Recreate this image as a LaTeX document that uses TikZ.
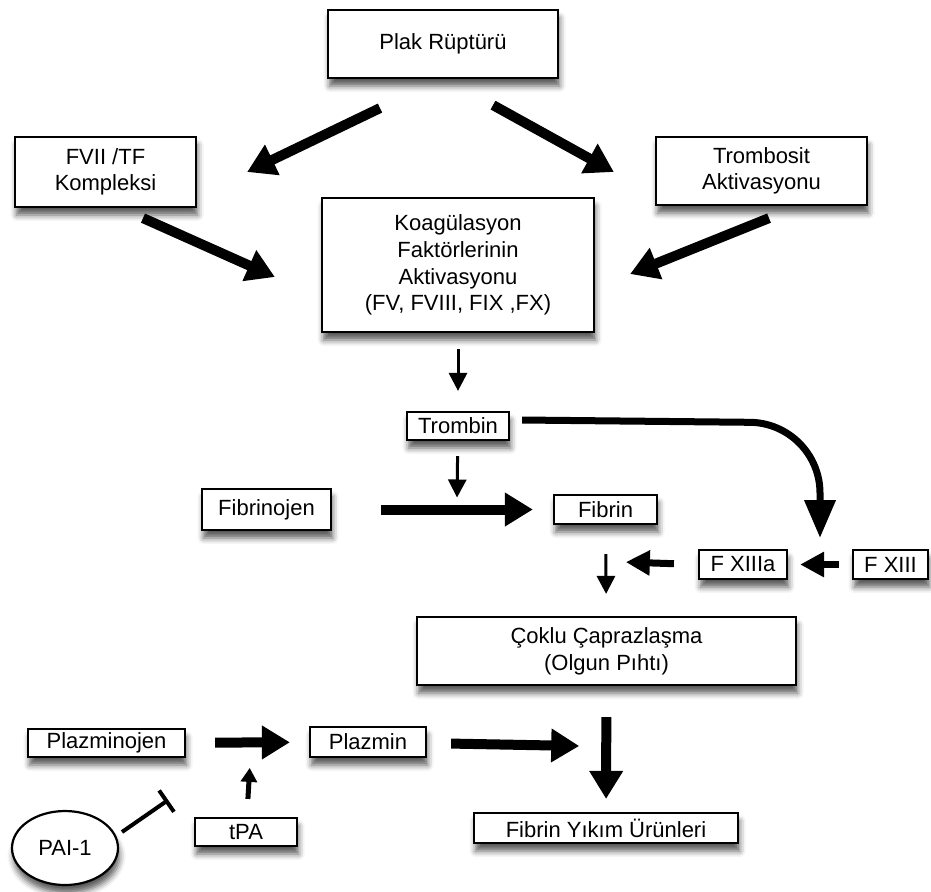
\documentclass[tikz,border=0pt]{standalone}
\usepackage{fontspec}
\setmainfont{Liberation Sans}
\usetikzlibrary{arrows.meta, calc, shapes.geometric, shadows, shadows.blur}

\begin{document}
\begin{tikzpicture}[
  x=0.5pt, y=-0.5pt,
  box/.style={rectangle, draw=black, line width=1.1pt, fill=white, inner sep=1pt, align=center, font=\fontsize{11}{13.3}\selectfont, blur shadow={shadow xshift=0.8pt, shadow yshift=-4pt, shadow blur radius=3pt, shadow opacity=65}},
  bigarrow/.style={-{Triangle[length=14pt,width=16pt]}, line width=5pt},
  midarrow/.style={-{Triangle[length=12pt,width=12pt]}, line width=3.5pt},
  curvearrow/.style={-{Triangle[length=19pt,width=15pt]}, line width=3.5pt},
  thinarrow/.style={-{Triangle[length=9pt,width=9pt]}, line width=1.5pt},
  smallarrow/.style={-{Triangle[length=7pt,width=8pt]}, line width=2.5pt},
  inhibit/.style={-{Bar[width=13pt,line width=2pt]}, line width=2pt}
]
  \useasboundingbox (0,0) rectangle (931,891);

  % Top
  \node[box, minimum width=115pt, minimum height=34pt] (plak) at (443,44) {Plak Rüptürü};
  \node[box, minimum width=90.5pt, minimum height=35pt] (fvii) at (105.5,172) {FVII /TF\\Kompleksi};
  \node[box, minimum width=105.5pt, minimum height=34pt] (tromb) at (761.5,171) {Trombosit\\Aktivasyonu};
  \node[box, minimum width=136pt, minimum height=67pt] (koag) at (458,265) {Koagülasyon\\Faktörlerinin\\Aktivasyonu\\(FV, FVIII, FIX ,FX)};

  % Thrombin and fibrin
  \node[box, minimum width=51pt, minimum height=14pt] (trombin) at (458,426) {Trombin};
  \node[box, minimum width=64.5pt, minimum height=20.5pt] (fibrinojen) at (266.5,509.5) {Fibrinojen};
  \node[box, minimum width=51.5pt, minimum height=14.5pt] (fibrin) at (605.5,509.5) {Fibrin};
  \node[box, minimum width=44pt, minimum height=14.5pt] (fxiiia) at (743,564.5) {F XIIIa};
  \node[box, minimum width=37.5pt, minimum height=14.5pt] (fxiii) at (890.5,564.5) {F XIII};
  \node[box, minimum width=189.5pt, minimum height=34pt] (coklu) at (606.5,651) {Çoklu Çaprazlaşma\\(Olgun Pıhtı)};

  % Fibrinolysis
  \node[box, minimum width=78.5pt, minimum height=14pt] (plazminojen) at (106.5,743) {Plazminojen};
  \node[box, minimum width=58pt, minimum height=15pt] (plazmin) at (368,742) {Plazmin};
  \node[box, minimum width=132pt, minimum height=15pt] (fyu) at (606,828) {Fibrin Yıkım Ürünleri};
  \node[box, minimum width=51pt, minimum height=14pt] (tpa) at (246,832) {tPA};
  \node[box, ellipse, inner sep=0pt, minimum width=53pt, minimum height=37pt] (pai) at (65,848) {PAI-1};

  % Arrows
  \draw[bigarrow] ([shift={(-63,29)}]plak.south) -- ([shift={(50,0)}]fvii.east);
  \draw[bigarrow] ([shift={(50,26)}]plak.south) -- ([shift={(-41,1)}]tromb.west);
  \draw[bigarrow] ([shift={(37.5,10)}]fvii.south) -- ([shift={(-46,12)}]koag.west);
  \draw[bigarrow] ([shift={(7.5,12)}]tromb.south) -- ([shift={(35,9)}]koag.east);
  \draw[thinarrow, shorten <=8pt, shorten >=10pt] (koag) -- (trombin);
  \draw[bigarrow, shorten <=24.5pt, shorten >=10pt] (fibrinojen) -- coordinate[pos=0.565] (react) (fibrin);
  \draw[thinarrow, shorten <=7.5pt, shorten >=6pt] (trombin) -- (react);
  \draw[midarrow, shorten <=6.5pt, shorten >=6pt] (fxiii) -- coordinate[pos=0.5] (act) (fxiiia);
  \draw[curvearrow, rounded corners=35pt] ([shift={(12,-6)}]trombin.east) -- ([shift={(0,-3)}]act |- trombin.east) -- ([shift={(0,-26.5)}]act);
  \draw[thinarrow, shorten <=14.5pt, shorten >=11pt] (fibrin) -- coordinate[pos=0.4] (join) (coklu);
  \draw[midarrow, shorten <=12pt, shorten >=10pt] (fxiiia.west) -- (join);
  \draw[bigarrow, shorten <=15.5pt, shorten >=6.5pt] (coklu) -- coordinate[pos=0.48] (lysis) (fyu);
  \draw[bigarrow, shorten <=12pt, shorten >=13.5pt] (plazmin) -- (lysis);
  \draw[bigarrow, shorten <=14.5pt, shorten >=9.5pt] (plazminojen) -- coordinate[pos=0.53] (conv) (plazmin);
  \draw[smallarrow, shorten <=9pt, shorten >=12.75pt] (tpa) -- (conv);
  \draw[inhibit, shorten >=50.5pt] ([shift={(57,-16)}]pai.center) -- (conv);
\end{tikzpicture}
\end{document}
